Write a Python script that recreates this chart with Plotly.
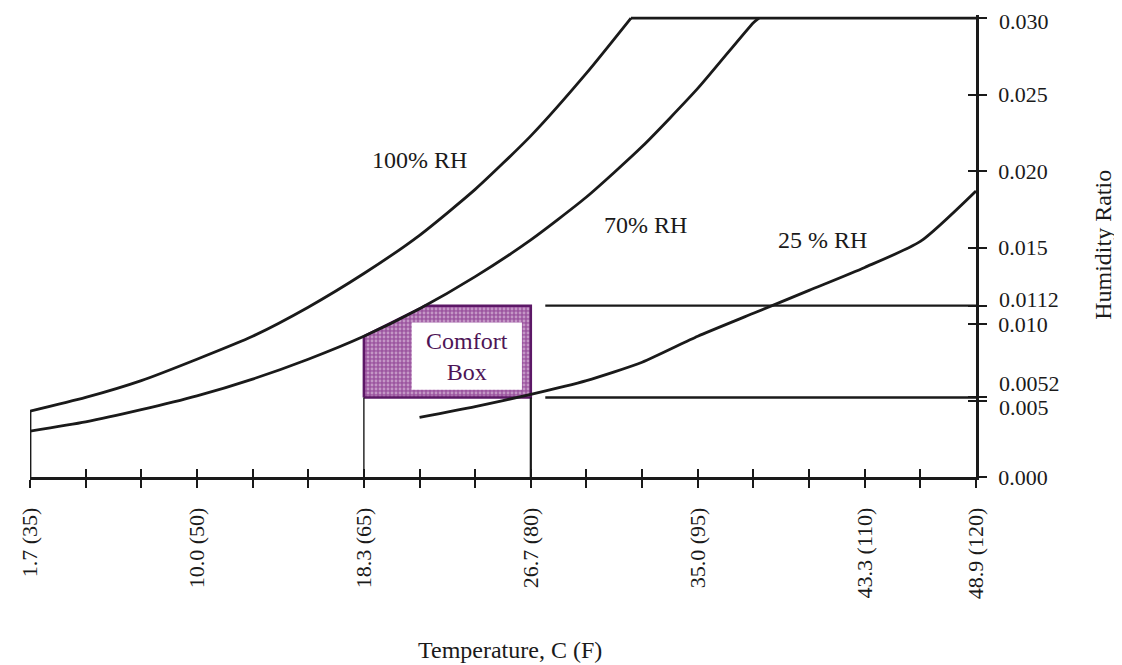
import numpy as np
import plotly.graph_objects as go

# ---------------- data ----------------
temp_100 = [35, 40, 45, 50, 55, 60, 65, 70, 75, 80, 85, 89, 120]
w_100 = [0.0043, 0.0052, 0.0063, 0.0077, 0.0092, 0.0111, 0.0133, 0.0158,
         0.0188, 0.0223, 0.0264, 0.0300, 0.0300]

temp_70 = [35, 40, 45, 50, 55, 60, 65, 70, 75, 80, 85, 90, 95, 100, 100.5]
w_70 = [0.0030, 0.0036, 0.0044, 0.0053, 0.0064, 0.0077, 0.0092, 0.0110,
        0.0131, 0.0155, 0.0183, 0.0216, 0.0254, 0.0297, 0.0300]

temp_25 = [70, 75, 80, 85, 90, 95, 100, 105, 110, 115, 120]
w_25 = [0.0039, 0.0046, 0.0054, 0.0063, 0.0075, 0.0092, 0.0107, 0.0122,
        0.0137, 0.0154, 0.0187]

box_temp = [65, 80]            # deg F
box_w = [0.0052, 0.0112]       # humidity ratio
guide_start = 81.3             # start of the horizontal guide lines
inner_temp = [69.3, 79.2]      # white label area inside the box
inner_w = [0.0057, 0.0101]

x_tickvals = list(range(35, 121, 5))
x_labels = {35: "1.7 (35)", 50: "10.0 (50)", 65: "18.3 (65)", 80: "26.7 (80)",
            95: "35.0 (95)", 110: "43.3 (110)", 120: "48.9 (120)"}
y_tickvals = [0.000, 0.005, 0.0052, 0.010, 0.0112, 0.015, 0.020, 0.025, 0.030]
y_ticktext = ["0.000", "", "", "0.010", "", "0.015", "0.020", "0.025", ""]
# labels drawn separately (too close to a neighbour or to the top edge)
y_close_labels = [("0.0112", 0.0112, 6), ("0.0052", 0.0052, 14), ("0.005", 0.005, -7),
                  ("0.030", 0.030, -3)]

curve_labels = [("100% RH", 70.0, 0.0207), ("70% RH", 90.3, 0.0165),
                ("25 % RH", 106.2, 0.0155)]

FONT = "Liberation Serif"
INK = "#1a1a1a"

fig = go.Figure()

# ---------------- comfort box ----------------
t70 = np.array(temp_70)
w70 = np.array(w_70)
w_left_top = float(np.interp(box_temp[0], t70, w70))
t_cross = float(np.interp(box_w[1], w70, t70))
mask = (t70 > box_temp[0]) & (t70 < t_cross)
poly_x = [box_temp[0], box_temp[0]] + list(t70[mask]) + [t_cross, box_temp[1], box_temp[1], box_temp[0]]
poly_y = [box_w[0], w_left_top] + list(w70[mask]) + [box_w[1], box_w[1], box_w[0], box_w[0]]
fig.add_trace(go.Scatter(
    x=poly_x, y=poly_y, mode="lines", fill="toself",
    fillcolor="#a868aa",
    fillpattern=dict(shape=".", fgcolor="#ecd8ec", bgcolor="#9c56a0", size=4, solidity=0.4),
    line=dict(color="#5c1866", width=2.5), hoverinfo="skip", showlegend=False))
fig.add_trace(go.Scatter(
    x=[inner_temp[0], inner_temp[1], inner_temp[1], inner_temp[0], inner_temp[0]],
    y=[inner_w[0], inner_w[0], inner_w[1], inner_w[1], inner_w[0]],
    mode="lines", fill="toself", fillcolor="white", line=dict(width=0),
    hoverinfo="skip", showlegend=False))

# ---------------- RH curves ----------------
line = dict(color=INK, width=2.8)
smooth = dict(color=INK, width=2.8, shape="spline", smoothing=0.6)
fig.add_trace(go.Scatter(x=temp_100[:-1], y=w_100[:-1], mode="lines", line=smooth, showlegend=False))
fig.add_trace(go.Scatter(x=temp_100[-2:], y=w_100[-2:], mode="lines", line=line, showlegend=False))
fig.add_trace(go.Scatter(x=temp_70, y=w_70, mode="lines", line=smooth, showlegend=False))
fig.add_trace(go.Scatter(x=temp_25, y=w_25, mode="lines", line=smooth, showlegend=False))

# left border from axis up to start of the saturation curve
fig.add_trace(go.Scatter(x=[temp_100[0], temp_100[0]], y=[0, w_100[0]], mode="lines",
                         line=line, showlegend=False))

# vertical drop lines from the box to the temperature axis
for i, t in enumerate(box_temp):
    fig.add_trace(go.Scatter(x=[t, t], y=[0, box_w[0]], mode="lines",
                             line=dict(color=INK, width=1.4 if i == 0 else 2.2),
                             showlegend=False))
# horizontal guide lines from the box to the humidity axis
for w in box_w:
    fig.add_trace(go.Scatter(x=[guide_start, x_tickvals[-1]], y=[w, w], mode="lines",
                             line=dict(color=INK, width=2.4), showlegend=False))

# dummy trace for the overlay axes (inside half of the crossing ticks)
fig.add_trace(go.Scatter(x=[35], y=[0], xaxis="x2", yaxis="y2", mode="markers",
                         marker=dict(opacity=0), showlegend=False, hoverinfo="skip"))

# ---------------- text ----------------
for txt, x, y in curve_labels:
    fig.add_annotation(x=x, y=y, text=txt, showarrow=False,
                       font=dict(family=FONT, size=24, color=INK))
fig.add_annotation(x=sum(inner_temp) / 2, y=sum(inner_w) / 2, text="Comfort<br>Box",
                   showarrow=False, font=dict(family=FONT, size=24, color="#4e1456"))

for txt, yv, shift in y_close_labels:
    fig.add_annotation(x=1, xref="paper", y=yv, yref="y", text=txt, showarrow=False,
                       xanchor="left", yanchor="middle", xshift=21, yshift=shift,
                       font=dict(family=FONT, size=22, color=INK))

fig.add_annotation(x=0.507, xref="paper", y=-0.3745, yref="paper", text="Temperature, C (F)",
                   xanchor="center", yanchor="middle",
                   showarrow=False, font=dict(family=FONT, size=24, color=INK))
fig.add_annotation(x=1.134, xref="paper", y=0.502, yref="paper", text="Humidity Ratio",
                   xanchor="center", yanchor="middle",
                   textangle=-90, showarrow=False, font=dict(family=FONT, size=24, color=INK))

# ---------------- axes ----------------
x_range = [35, 120]
y_range = [0, 0.0302]
x_ticktext = [x_labels.get(v, "") for v in x_tickvals]

common_x = dict(range=x_range, tickmode="array", tickvals=x_tickvals, showgrid=False,
                zeroline=False, ticklen=8, tickwidth=2, tickcolor=INK, automargin=False)
common_y = dict(range=y_range, tickmode="array", tickvals=y_tickvals, showgrid=False,
                zeroline=False, ticklen=8, tickwidth=2, tickcolor=INK, automargin=False)

fig.update_layout(
    width=1122, height=665,
    margin=dict(l=22, r=154, t=7, b=196),
    paper_bgcolor="white", plot_bgcolor="white",
    showlegend=False,
    font=dict(family=FONT, size=22, color=INK),
    xaxis=dict(**common_x, ticks="outside", ticktext=x_ticktext, tickangle=-90,
               showline=True, linecolor=INK, linewidth=2.6, ticklabelstandoff=11,
               ticklabeloverflow="allow",
               tickfont=dict(family=FONT, size=22, color=INK)),
    xaxis2=dict(**common_x, ticks="inside", showticklabels=False, overlaying="x",
                anchor="y", side="bottom", showline=False),
    yaxis=dict(**common_y, ticks="outside", ticktext=y_ticktext, side="right",
               showline=True, linecolor=INK, linewidth=2.6, ticklabelstandoff=7,
               ticklabeloverflow="allow",
               tickfont=dict(family=FONT, size=22, color=INK)),
    yaxis2=dict(**common_y, ticks="inside", showticklabels=False, overlaying="y",
                anchor="x", side="right", showline=False),
)

fig.write_html("out.html")
